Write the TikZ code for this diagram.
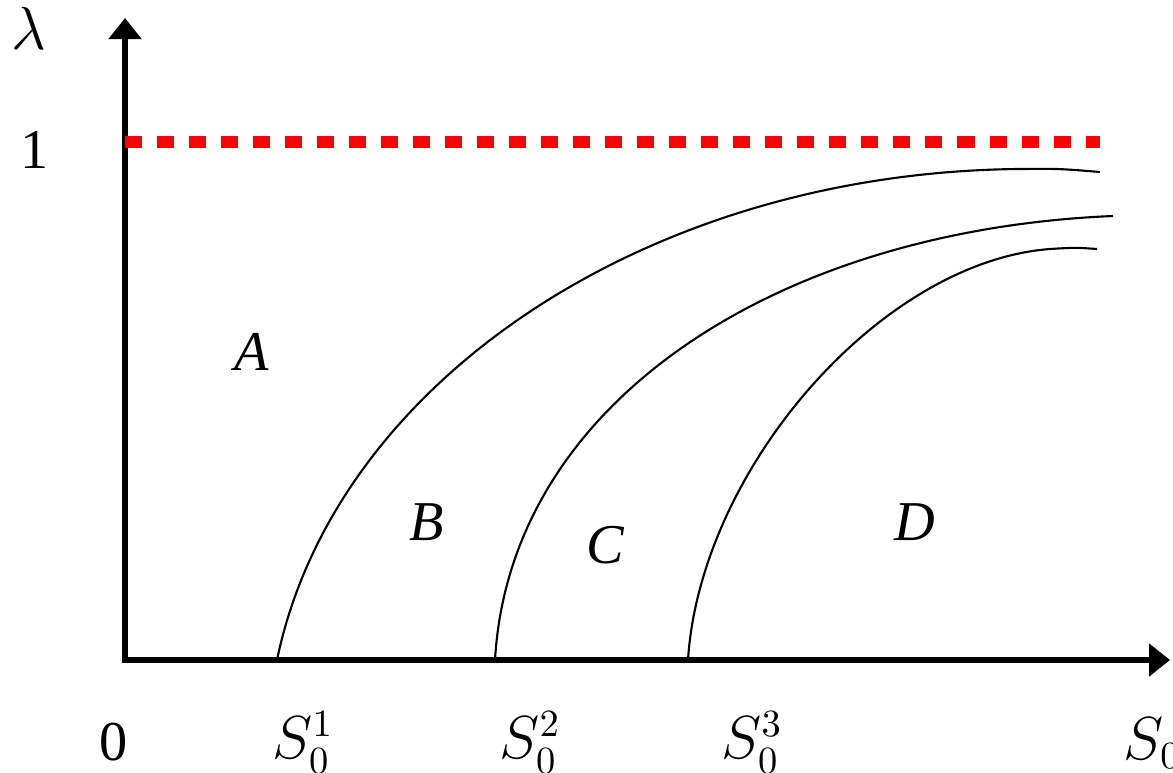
\documentclass[tikz,border=0pt]{standalone}
\usepackage{fontspec}
\setmainfont{Liberation Serif}
\definecolor{LimitRed}{HTML}{FF0000}
\usetikzlibrary{arrows.meta}
\tikzset{
  axisline/.style={{Triangle[width=3.2mm,length=2.1mm]}-{Triangle[width=3.2mm,length=2.1mm]}, line width=1.45pt, line join=miter},
  boundary/.style={line width=0.6pt},
  limitline/.style={draw=LimitRed, line width=3.4pt, dash pattern=on 1.7mm off 1.5mm},
  lbl/.style={font=\fontsize{16}{19}\selectfont, inner sep=0pt},
  region/.style={font=\fontsize{16}{19}\selectfont\itshape, inner sep=0pt}
}

\begin{document}
\begin{tikzpicture}[x=0.01cm, y=-0.01cm]
\useasboundingbox (0,0) rectangle (1173,773);

% axes
\coordinate (O) at (125,660);
\coordinate (ytip) at (125,18);
\coordinate (xtip) at (1170,660);
\draw[axisline] (ytip) -- (O) -- (xtip);

% lambda = 1
\coordinate (oneL) at (125,142);
\coordinate (oneR) at (1100,142);
\draw[limitline] (oneL) -- (oneR);

% boundaries between regions
\coordinate (b1) at (277,660);
\coordinate (b2) at (495,660);
\coordinate (b3) at (688,660);
\draw[boundary] (b1) .. controls (335,380) and (650,172) .. (1020,169) .. controls (1060,168.7) .. (1100,172);
\draw[boundary] (b2) .. controls (510,400) and (780,230) .. (1113,216);
\draw[boundary] (b3) .. controls (700,470) and (880,262) .. (1050,249) .. controls (1075,247.5) .. (1097,249);

% axis labels
\node[lbl] (lam) at (29,28) {$\lambda$};
\node[lbl] (one) at (35,150) {1};
\node[lbl] (zero) at (114,742) {0};
\node[lbl] (s1) at (303,743) {$S_0^1$};
\node[lbl] (s2) at (530,743) {$S_0^2$};
\node[lbl] (s3) at (752,743) {$S_0^3$};
\node[lbl, anchor=west] (s0) at (1123,743) {$S_0$};

% regions
\node[region] (A) at (252,352) {A};
\node[region] (B) at (427,522) {B};
\node[region] (C) at (605,545) {C};
\node[region] (D) at (915,522) {D};
\end{tikzpicture}
\end{document}
